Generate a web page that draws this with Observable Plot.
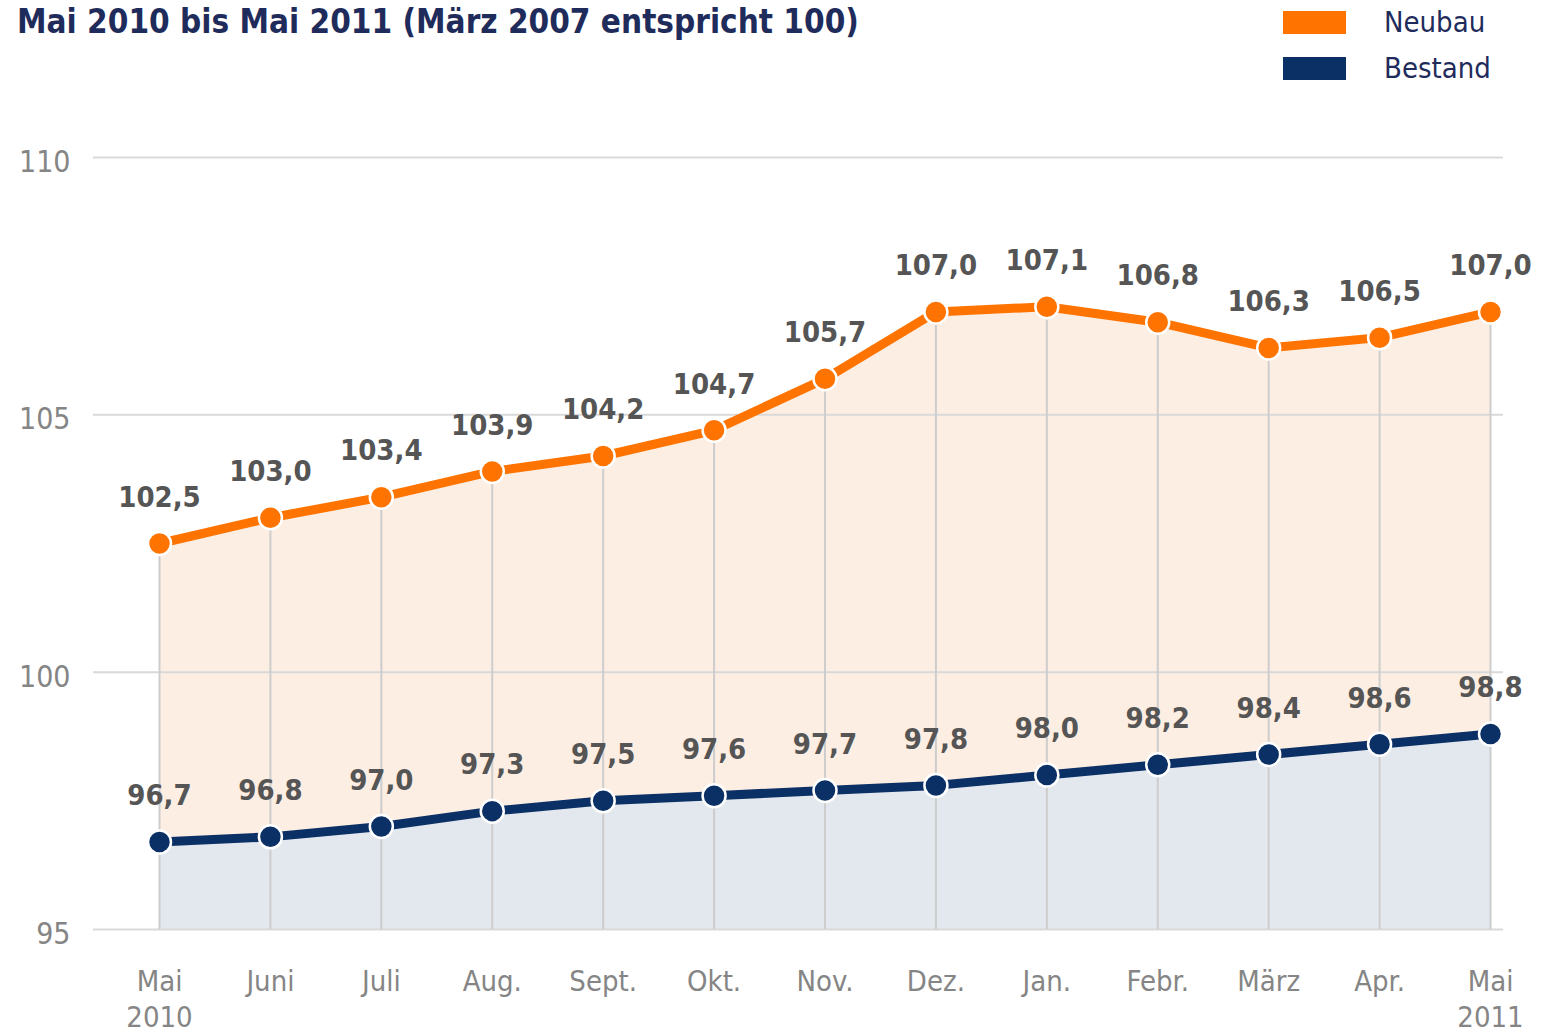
<!DOCTYPE html>
<html>
<head>
<meta charset="utf-8">
<script src="https://cdn.jsdelivr.net/npm/d3@7"></script>
<script src="https://cdn.jsdelivr.net/npm/@observablehq/plot@0.6"></script>
<style>
  html, body { margin: 0; padding: 0; background: #fff; }
  body { width: 1553px; height: 1035px; position: relative; overflow: hidden;
         font-family: "DejaVu Sans Condensed", "DejaVu Sans", sans-serif; }
  #title { position: absolute; left: 17px; top: 2px; font-size: 33px; font-weight: bold;
           color: #1f2c5b; white-space: nowrap; }
  .leg { position: absolute; left: 1283px; width: 63px; height: 23px; }
  .legt { position: absolute; left: 1384px; font-size: 29px; color: #1f2c5b; line-height: 1; }
  #chart { position: absolute; left: 0; top: 90px; }
</style>
</head>
<body>
<div id="title">Mai 2010 bis Mai 2011 (März 2007 entspricht 100)</div>
<div id="legend"></div>
<div id="chart"></div>
<script>
const months = ["Mai\n2010","Juni","Juli","Aug.","Sept.","Okt.","Nov.","Dez.","Jan.","Febr.","März","Apr.","Mai\n2011"];
const neubau = [102.5,103.0,103.4,103.9,104.2,104.7,105.7,107.0,107.1,106.8,106.3,106.5,107.0];
const bestand = [96.7,96.8,97.0,97.3,97.5,97.6,97.7,97.8,98.0,98.2,98.4,98.6,98.8];
const yTicks = [95,100,105,110];
const seriesNames = ["Neubau","Bestand"];
const seriesColors = ["#ff7300","#0b3065"];
const baseline = 95;

const fmt = v => v.toFixed(1).replace(".", ",");
const rows = months.map((m, i) => ({i, m, neubau: neubau[i], bestand: bestand[i]}));

// legend
const legend = document.getElementById("legend");
seriesNames.forEach((name, k) => {
  const r = document.createElement("div");
  r.className = "leg";
  r.style.top = (11 + k * 46) + "px";
  r.style.background = seriesColors[k];
  legend.appendChild(r);
  const t = document.createElement("div");
  t.className = "legt";
  t.style.top = (8 + k * 46) + "px";
  t.textContent = name;
  legend.appendChild(t);
});

const chart = Plot.plot({
  width: 1553,
  height: 945,
  marginTop: 67,
  marginBottom: 106,
  marginLeft: 93,
  marginRight: 50,
  style: {fontFamily: "'DejaVu Sans Condensed', 'DejaVu Sans', sans-serif", background: "white"},
  x: {domain: [0, months.length - 1], range: [159, 1490], axis: null, label: null},
  y: {domain: [95, 110], axis: null, label: null},
  marks: [
    Plot.areaY(rows, {x: "i", y1: baseline, y2: "neubau", fill: "#fdeee3"}),
    Plot.areaY(rows, {x: "i", y1: baseline, y2: "bestand", fill: "#e3e8ee"}),
    Plot.ruleY(yTicks, {stroke: "#d9d9d9", strokeWidth: 2}),
    Plot.ruleX(rows, {x: "i", y1: baseline, y2: "neubau", stroke: "#cdcdcd", strokeWidth: 2}),
    Plot.axisY({ticks: yTicks, tickSize: 0, tickPadding: 23, fontSize: 30, color: "#858585", dy: 5, label: null}),
    Plot.axisX({ticks: rows.map(d => d.i), tickFormat: i => months[i], tickSize: 0, tickPadding: 36,
                fontSize: 29, lineHeight: 1.24, color: "#858585", label: null}),
    Plot.line(rows, {x: "i", y: "neubau", stroke: seriesColors[0], strokeWidth: 9, strokeLinejoin: "round"}),
    Plot.line(rows, {x: "i", y: "bestand", stroke: seriesColors[1], strokeWidth: 9, strokeLinejoin: "round"}),
    Plot.dot(rows, {x: "i", y: "neubau", r: 11.5, fill: seriesColors[0], stroke: "white", strokeWidth: 2.5}),
    Plot.dot(rows, {x: "i", y: "bestand", r: 11.5, fill: seriesColors[1], stroke: "white", strokeWidth: 2.5}),
    Plot.text(rows, {x: "i", y: "neubau", text: d => fmt(d.neubau), dy: -46, fontSize: 29, fontWeight: "bold", fill: "#555"}),
    Plot.text(rows, {x: "i", y: "bestand", text: d => fmt(d.bestand), dy: -46, fontSize: 29, fontWeight: "bold", fill: "#555"})
  ]
});
document.getElementById("chart").appendChild(chart);
</script>
</body>
</html>
